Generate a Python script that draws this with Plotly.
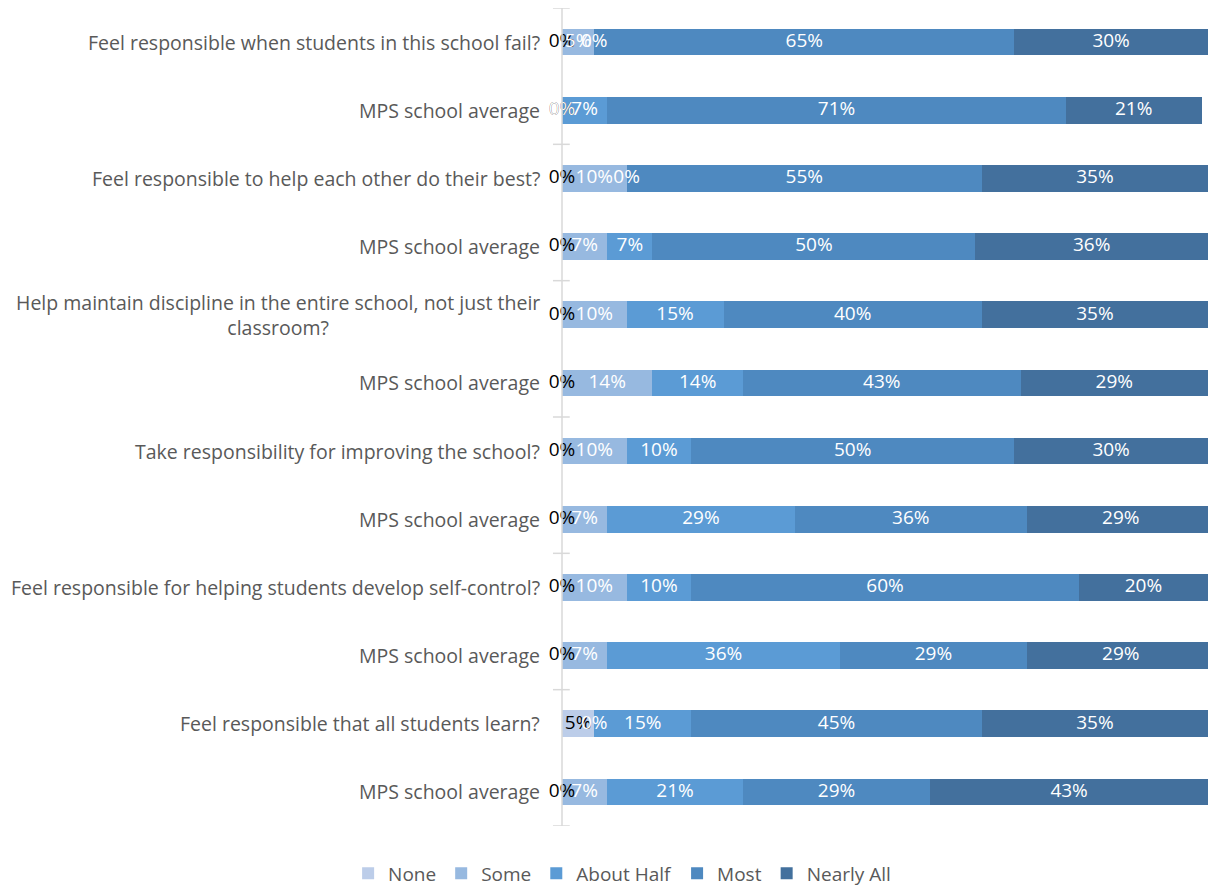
import plotly.graph_objects as go

# Survey rows, top to bottom
categories = [
    "Feel responsible when students in this school fail?",
    "MPS school average",
    "Feel responsible to help each other do their best?",
    "MPS school average",
    "Help maintain discipline in the entire school, not just their<br>classroom?",
    "MPS school average",
    "Take responsibility for improving the school?",
    "MPS school average",
    "Feel responsible for helping students develop self-control?",
    "MPS school average",
    "Feel responsible that all students learn?",
    "MPS school average",
]

series_names = ["None", "Some", "About Half", "Most", "Nearly All"]
none_vals = [0, 0, 0, 0, 0, 0, 0, 0, 0, 0, 5, 0]
some_vals = [5, 0, 10, 7, 10, 14, 10, 7, 10, 7, 0, 7]
half_vals = [0, 7, 0, 7, 15, 14, 10, 29, 10, 36, 15, 21]
most_vals = [65, 71, 55, 50, 40, 43, 50, 36, 60, 29, 45, 29]
all_vals = [30, 21, 35, 36, 35, 29, 30, 29, 20, 29, 35, 43]

colors = ["#bccde9", "#97b9e0", "#5b9bd5", "#4e89c0", "#43709d"]
label_colors = ["#000000", "#ffffff", "#ffffff", "#ffffff", "#ffffff"]

FONT = "Open Sans"
GREY = "#595959"
SIZE = 19
CAT_SIZE = 19.5

rows = list(range(len(categories)))
values = [none_vals, some_vals, half_vals, most_vals, all_vals]

fig = go.Figure()

# stacked segments
for name, vals, col in zip(series_names, values, colors):
    fig.add_trace(go.Bar(
        x=vals, y=rows, orientation="h", name=name,
        marker=dict(color=col, line=dict(width=0)),
        width=0.39, hoverinfo="skip",
    ))

# value labels centred on each segment
starts = [0] * len(rows)
for name, vals, tcol in zip(series_names, values, label_colors):
    mids = [s + v / 2 for s, v in zip(starts, vals)]
    fig.add_trace(go.Scatter(
        x=mids, y=rows, mode="text", text=[f"{v}%" for v in vals],
        textposition="middle center",
        textfont=dict(family=FONT, size=SIZE, color=tcol),
        showlegend=False, hoverinfo="skip", cliponaxis=False,
    ))
    starts = [s + v for s, v in zip(starts, vals)]

# category labels
for i, cat in enumerate(categories):
    fig.add_annotation(
        x=0, xref="paper", y=i, yref="y", text=cat, showarrow=False,
        xanchor="right", yanchor="middle", align="center", xshift=-20,
        font=dict(family=FONT, size=CAT_SIZE, color=GREY),
    )

# axis line and group ticks
fig.add_shape(type="line", xref="paper", yref="y", x0=0, x1=0, y0=-0.5, y1=11.5,
              line=dict(color="#d9d9d9", width=1.5))
for t in [-0.5, 1.5, 3.5, 5.5, 7.5, 9.5, 11.5]:
    fig.add_shape(type="line", xref="paper", yref="y", x0=-0.014, x1=0.012, y0=t, y1=t,
                  line=dict(color="#d9d9d9", width=1.5))

fig.update_layout(
    width=1208, height=886,
    margin=dict(l=562, r=0, t=8, b=60, autoexpand=False),
    barmode="stack", bargap=0.6,
    plot_bgcolor="white", paper_bgcolor="white",
    xaxis=dict(range=[0, 100], visible=False, fixedrange=True),
    yaxis=dict(range=[11.5, -0.5], showticklabels=False, showgrid=False,
               zeroline=False, showline=False, ticks="", fixedrange=True),
    legend=dict(orientation="h", x=0.515, xref="container", xanchor="center",
                y=-0.058, yanchor="middle",
                font=dict(family=FONT, size=SIZE, color=GREY),
                traceorder="normal"),
    font=dict(family=FONT),
)

fig.write_html("out.html")
